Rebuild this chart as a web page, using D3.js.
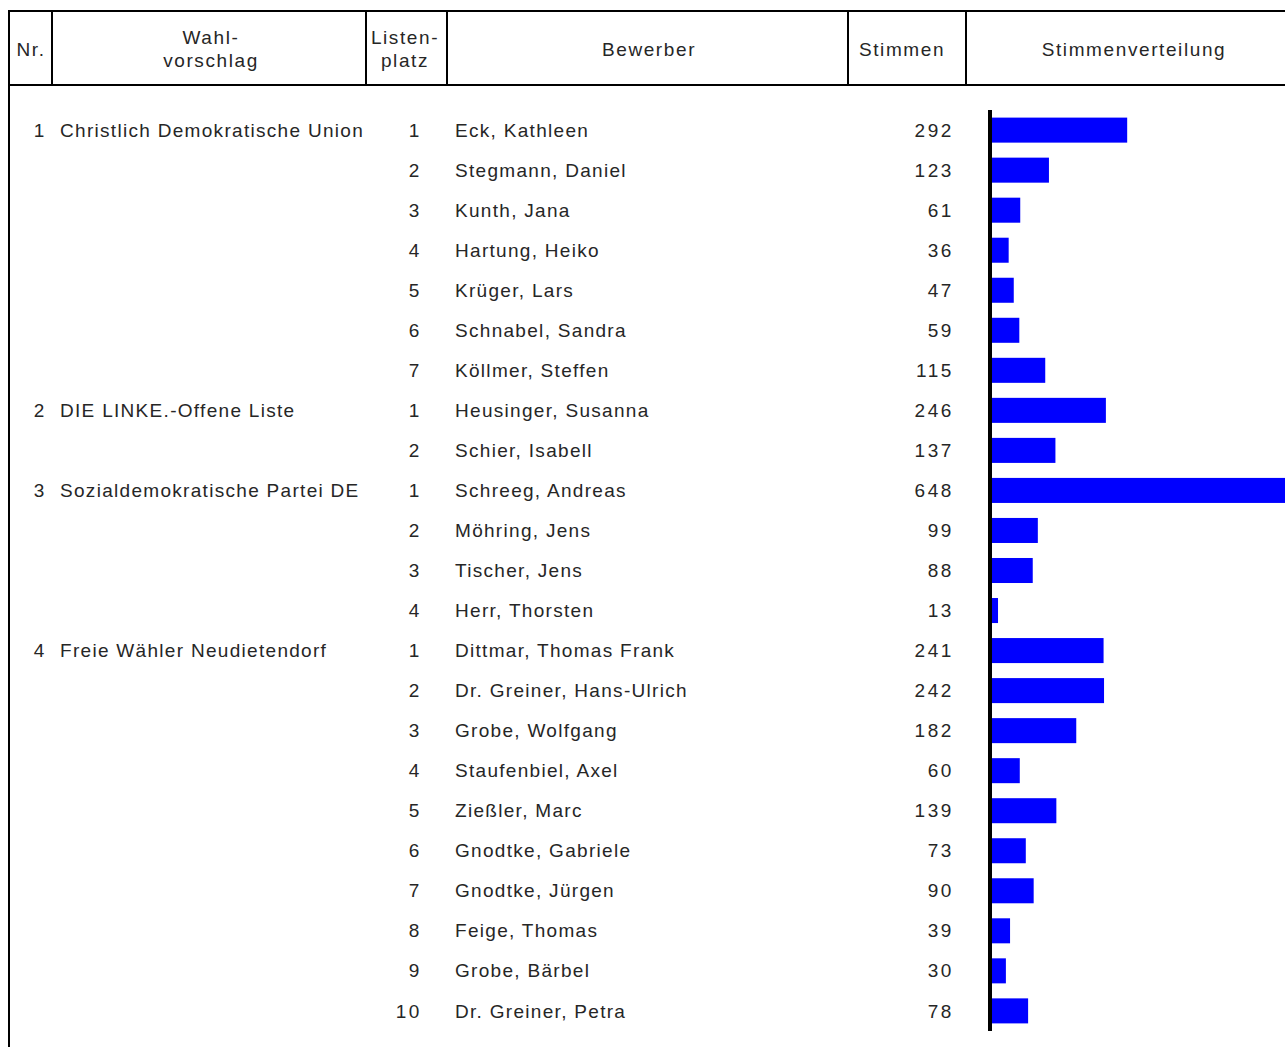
<!DOCTYPE html>
<html>
<head>
<meta charset="utf-8">
<script src="https://cdn.jsdelivr.net/npm/d3@7"></script>
<style>
  body { margin: 0; background: #fff; }
  text { font-family: "Liberation Sans", Arial, sans-serif; font-size: 19px; fill: #262626; letter-spacing: 1.3px; }
  text.num { letter-spacing: 2.6px; }
  text.head { letter-spacing: 1.6px; }
</style>
</head>
<body>
<script>
// Wahlvorschläge (Nr. + Name)
var partyNr = [1, 2, 3, 4];
var partyNames = ["Christlich Demokratische Union", "DIE LINKE.-Offene Liste", "Sozialdemokratische Partei DE", "Freie Wähler Neudietendorf"];

// Bewerber, row by row
var rowParty = [0, 0, 0, 0, 0, 0, 0, 1, 1, 2, 2, 2, 2, 3, 3, 3, 3, 3, 3, 3, 3, 3, 3];
var listPlace = [1, 2, 3, 4, 5, 6, 7, 1, 2, 1, 2, 3, 4, 1, 2, 3, 4, 5, 6, 7, 8, 9, 10];
var candidates = ["Eck, Kathleen", "Stegmann, Daniel", "Kunth, Jana", "Hartung, Heiko", "Krüger, Lars",
  "Schnabel, Sandra", "Köllmer, Steffen", "Heusinger, Susanna", "Schier, Isabell", "Schreeg, Andreas",
  "Möhring, Jens", "Tischer, Jens", "Herr, Thorsten", "Dittmar, Thomas Frank", "Dr. Greiner, Hans-Ulrich",
  "Grobe, Wolfgang", "Staufenbiel, Axel", "Zießler, Marc", "Gnodtke, Gabriele", "Gnodtke, Jürgen",
  "Feige, Thomas", "Grobe, Bärbel", "Dr. Greiner, Petra"];
var votes = [292, 123, 61, 36, 47, 59, 115, 246, 137, 648, 99, 88, 13, 241, 242, 182, 60, 139, 73, 90, 39, 30, 78];

// header columns: label lines and centre x
var headLabels = [["Nr."], ["Wahl-", "vorschlag"], ["Listen-", "platz"], ["Bewerber"], ["Stimmen"], ["Stimmenverteilung"]];
var headCenters = [31, 211, 405, 649, 902, 1134];
var headDividers = [52, 366, 447, 848, 966];

var W = 1285, H = 1047;

var svg = d3.select("body").append("svg")
  .attr("width", W)
  .attr("height", H);

// table frame
svg.append("line").attr("x1", 8).attr("x2", W).attr("y1", 11).attr("y2", 11)
  .attr("stroke", "#000").attr("stroke-width", 2);
svg.append("line").attr("x1", 8).attr("x2", W).attr("y1", 85).attr("y2", 85)
  .attr("stroke", "#000").attr("stroke-width", 2);
svg.append("line").attr("x1", 9).attr("x2", 9).attr("y1", 10).attr("y2", H)
  .attr("stroke", "#000").attr("stroke-width", 2);
svg.selectAll(".div").data(headDividers).enter().append("line")
  .attr("x1", d => d).attr("x2", d => d).attr("y1", 11).attr("y2", 85)
  .attr("stroke", "#000").attr("stroke-width", 2);

// header texts
headLabels.forEach(function(lines, i) {
  var t = svg.append("text").attr("class", "head").attr("text-anchor", "middle");
  var y0 = lines.length == 1 ? 56 : 44;
  lines.forEach(function(l, j) {
    t.append("tspan").attr("x", headCenters[i]).attr("y", y0 + j * 23).text(l);
  });
});

// row scale
var idx = d3.range(candidates.length);
var y = d3.scaleBand()
  .domain(idx)
  .range([110, 1031])
  .paddingInner(0.375)
  .paddingOuter(0.19);

var x = d3.scaleLinear()
  .domain([0, 648])
  .range([992, 1292]);

var rowMid = i => y(i) + y.bandwidth() / 2;

// party labels on first row of each party
var firstRows = partyNr.map((n, p) => rowParty.indexOf(p));
svg.selectAll(".pnr").data(partyNr).enter().append("text")
  .attr("class", "num")
  .attr("text-anchor", "end")
  .attr("x", 47)
  .attr("y", (d, p) => rowMid(firstRows[p]))
  .attr("dy", "0.35em")
  .text(d => d);
svg.selectAll(".pname").data(partyNames).enter().append("text")
  .attr("x", 60)
  .attr("y", (d, p) => rowMid(firstRows[p]))
  .attr("dy", "0.35em")
  .text(d => d);

// list places
svg.selectAll(".lp").data(listPlace).enter().append("text")
  .attr("class", "num")
  .attr("text-anchor", "end")
  .attr("x", 422)
  .attr("y", (d, i) => rowMid(i))
  .attr("dy", "0.35em")
  .text(d => d);

// candidate names
svg.selectAll(".cand").data(candidates).enter().append("text")
  .attr("x", 455)
  .attr("y", (d, i) => rowMid(i))
  .attr("dy", "0.35em")
  .text(d => d);

// votes
svg.selectAll(".votes").data(votes).enter().append("text")
  .attr("class", "num")
  .attr("text-anchor", "end")
  .attr("x", 954)
  .attr("y", (d, i) => rowMid(i))
  .attr("dy", "0.35em")
  .text(d => d);

// bars
svg.selectAll(".bar").data(votes).enter().append("rect")
  .attr("x", x(0))
  .attr("y", (d, i) => y(i))
  .attr("width", d => x(d) - x(0))
  .attr("height", y.bandwidth())
  .attr("fill", "#0000ff");

// bar axis line
svg.append("line")
  .attr("x1", 990).attr("x2", 990)
  .attr("y1", y.range()[0]).attr("y2", y.range()[1])
  .attr("stroke", "#000").attr("stroke-width", 4);
</script>
</body>
</html>
